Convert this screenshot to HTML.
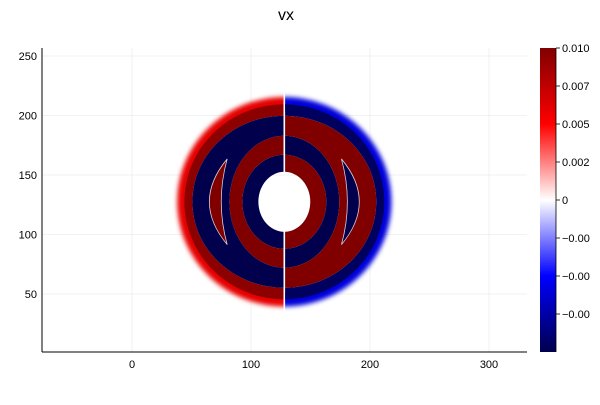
<!DOCTYPE html>
<html><head><meta charset="utf-8"><style>
body{margin:0;background:#fff;width:600px;height:400px;overflow:hidden}
svg text{font-family:"Liberation Sans","DejaVu Sans",sans-serif;fill:#000}
</style></head><body>
<svg id="c" width="600" height="400" xmlns="http://www.w3.org/2000/svg">
<defs>
<linearGradient id="cmap" x1="0" y1="1" x2="0" y2="0">
<stop offset="0" stop-color="#00004d"/><stop offset="0.25" stop-color="#0000ff"/><stop offset="0.5" stop-color="#ffffff"/><stop offset="0.75" stop-color="#ff0000"/><stop offset="1" stop-color="#800000"/>
</linearGradient>
<filter id="blur" x="-20%" y="-20%" width="140%" height="140%"><feGaussianBlur stdDeviation="2.5"/></filter>
<clipPath id="plotclip"><rect x="42" y="48" width="485" height="304"/></clipPath>
</defs>
<text x="286" y="20" font-size="16" text-anchor="middle">vx</text>
<g id="grid"></g>
<g id="marks" clip-path="url(#plotclip)"></g>
<g id="axes"></g>
<g id="cbar"></g>
</svg>
<script>
const xTicks=[0,100,200,300];
const yTicks=[50,100,150,200,250];
const center=[128,127.5];
const ringInRx=[80,77.3,21.8,35.3,46.2];
const ringInRy=[76,72.3,25.2,39.5,55.5];
const ringOutRx=[90,84,35.3,46.2,77.3];
const ringOutRy=[88,82,39.5,55.5,72.3];
const leftVals=[0.006,0.0095,-0.01,0.01,-0.01];
const rightVals=[-0.006,-0.0095,0.01,-0.01,0.01];
const ringBlur=[true,false,false,false,false];
const crescTip=[48];
const crescOuterMid=[63];
const crescInnerMid=[53];
const crescHalf=[36];
const crescLeftVals=[0.01];
const crescRightVals=[-0.01];
const cbTicks=[0.01,0.0075,0.005,0.0025,0,-0.0025,-0.005,-0.0075];
const cbLabels=["0.010","0.007","0.005","0.002","0","\u22120.00","\u22120.00","\u22120.00"];
const vmin=-0.01,vmax=0.01;

const NS="http://www.w3.org/2000/svg";
const X0=42,X1=527,Y0=48,Y1=352;
const sx=v=>132+v*1.19;
const sy=v=>294-(v-50)*1.19;
const sc=v=>v*1.19;
function mk(t,a,p){const e=document.createElementNS(NS,t);for(const k in a)e.setAttribute(k,a[k]);p.appendChild(e);return e;}
function cmap(v){
 const t=Math.max(0,Math.min(1,(v-vmin)/(vmax-vmin)));
 const st=[[0,0,0,77],[0.25,0,0,255],[0.5,255,255,255],[0.75,255,0,0],[1,128,0,0]];
 for(let i=0;i<4;i++){if(t<=st[i+1][0]){const f=(t-st[i][0])/(st[i+1][0]-st[i][0]);
  const c=[1,2,3].map(j=>Math.round(st[i][j]+f*(st[i+1][j]-st[i][j])));return `rgb(${c})`;}}
 return "rgb(128,0,0)";
}
function ell(cx,cy,rx,ry){return `M${cx-rx},${cy}A${rx},${ry} 0 1 0 ${cx+rx},${cy}A${rx},${ry} 0 1 0 ${cx-rx},${cy}Z`;}
const grid=document.getElementById('grid'),axes=document.getElementById('axes'),marks=document.getElementById('marks'),cbar=document.getElementById('cbar');
xTicks.forEach(v=>{
 const l=mk('line',{x1:sx(v),x2:sx(v),y1:Y0,y2:Y1,stroke:'#000','stroke-opacity':0.1,'stroke-width':0.5},grid);
 
 const t=mk('text',{x:sx(v),y:Y1+16,'font-size':11,'text-anchor':'middle'},axes);t.textContent=v;
 
});
yTicks.forEach(v=>{
 const l=mk('line',{x1:X0,x2:X1,y1:sy(v),y2:sy(v),stroke:'#000','stroke-opacity':0.1,'stroke-width':0.5},grid);
 
 const t=mk('text',{x:X0-5,y:sy(v)+4,'font-size':11,'text-anchor':'end'},axes);t.textContent=v;
 
});
const cx=sx(center[0]),cy=sy(center[1]);
const defs=document.querySelector('defs');
const cl=mk('clipPath',{id:'lh'},defs);mk('rect',{x:0,y:0,width:cx-0.8,height:400},cl);
const cr=mk('clipPath',{id:'rh'},defs);mk('rect',{x:cx+0.8,y:0,width:600,height:400},cr);
const gl=mk('g',{'clip-path':'url(#lh)'},marks), gr=mk('g',{'clip-path':'url(#rh)'},marks);
ringInRx.forEach((rx,i)=>{
 const d=ell(cx,cy,sc(ringOutRx[i]),sc(ringOutRy[i]))+ell(cx,cy,sc(rx),sc(ringInRy[i]));
 [[gl,leftVals[i],'left'],[gr,rightVals[i],'right']].forEach(([g,v,side])=>{
  const p=mk('path',{d:d,'fill-rule':'evenodd',fill:cmap(v)},g);
  if(ringBlur[i])p.setAttribute('filter','url(#blur)');
  
  
 });
});
crescTip.forEach((tp,i)=>{
 [[gl,-1,crescLeftVals[i],'left'],[gr,1,crescRightVals[i],'right']].forEach(([g,s,v,side])=>{
  const t=sc(tp),o=sc(crescOuterMid[i]),n=sc(crescInnerMid[i]),h=sc(crescHalf[i]);
  const xt=cx+s*t;
  const d=`M${xt},${cy-h}Q${cx+s*(2*o-t)},${cy} ${xt},${cy+h}Q${cx+s*(2*n-t)},${cy} ${xt},${cy-h}Z`;
  const p=mk('path',{d:d,fill:cmap(v),stroke:'rgba(255,255,255,0.8)','stroke-width':0.8},g);
  
  
 });
});
mk('line',{x1:X0,x2:X0,y1:Y0,y2:Y1,stroke:'#000','stroke-width':1},axes);
mk('line',{x1:X0,x2:X1,y1:Y1,y2:Y1,stroke:'#000','stroke-width':1},axes);
const CB0=48,CB1=352,cbx=540,cbw=16;
const cby=v=>CB1-(v-vmin)/(vmax-vmin)*(CB1-CB0);
const rb=mk('rect',{x:cbx,y:CB0,width:cbw,height:CB1-CB0,fill:'url(#cmap)'},cbar);

mk('line',{x1:cbx+cbw,x2:cbx+cbw,y1:CB0,y2:CB1,stroke:'#000','stroke-width':0.8},cbar);
cbTicks.forEach((v,i)=>{
 mk('line',{x1:cbx+cbw,x2:cbx+cbw+4,y1:cby(v),y2:cby(v),stroke:'#000','stroke-width':0.8},cbar);
 const t=mk('text',{x:cbx+cbw+6,y:cby(v)+4,'font-size':11},cbar);t.textContent=cbLabels[i];
 
});
</script>
</body></html>
